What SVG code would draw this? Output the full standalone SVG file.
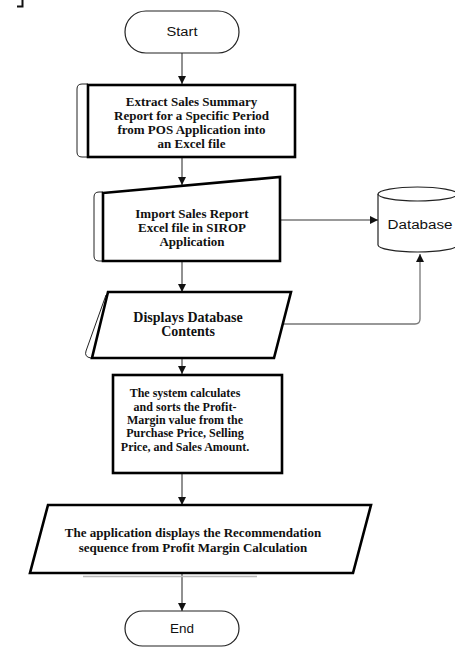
<svg xmlns="http://www.w3.org/2000/svg" width="455" height="648" viewBox="0 0 455 648">
  <defs>
    <marker id="arrow" markerUnits="userSpaceOnUse" markerWidth="8" markerHeight="8" viewBox="0 0 8 8" refX="8" refY="4" orient="auto">
      <path d="M0,0 L8,4 L0,8 z" fill="#111"/>
    </marker>
  </defs>
  <style>
    .term { fill: #fff; stroke: #222; stroke-width: 1.2; }
    .box { fill: #fff; stroke: #000; stroke-width: 2.6; stroke-linejoin: miter; }
    .ghost { fill: none; stroke: #222; stroke-width: 1; }
    .shadow { fill: none; stroke: #b8b8b8; stroke-width: 1.5; }
    .flow { fill: none; stroke: #222; stroke-width: 1; marker-end: url(#arrow); }
    .side { fill: none; stroke: #777; stroke-width: 1.3; marker-end: url(#arrow); }
    .sans { font-family: "Liberation Sans", Arial, sans-serif; font-size: 12px; fill: #111; text-anchor: middle; }
    .serif { font-family: "Liberation Serif", "Times New Roman", serif; font-weight: bold; font-size: 13px; fill: #111; text-anchor: middle; }
  </style>

  <!-- small bracket mark in the top-left corner -->
  <path d="M17,6.5 L22.5,6.5 L22.5,0" fill="none" stroke="#111" stroke-width="2"/>

  <g id="connectors">
    <line class="flow" x1="182" y1="53" x2="182" y2="84"/>
    <line class="flow" x1="182" y1="157" x2="182" y2="185"/>
    <line class="flow" x1="182" y1="261" x2="182" y2="292"/>
    <line class="flow" x1="182" y1="358" x2="182" y2="374"/>
    <line class="flow" x1="182" y1="473" x2="182" y2="505"/>
    <line class="flow" x1="182" y1="573" x2="182" y2="611"/>
    <line class="side" x1="281" y1="220" x2="378" y2="220"/>
    <path class="side" d="M283,324 L415,324 Q420,324 420,319 L420,254"/>
  </g>

  <g id="start">
    <rect class="term" x="125" y="11" width="114" height="42" rx="21" ry="21"/>
    <text class="sans" x="182" y="36" textLength="31" lengthAdjust="spacingAndGlyphs">Start</text>
  </g>

  <g id="extract-report">
    <path class="ghost" d="M88,84 L82,84 Q77,84 77,89 L77,152 Q77,157 82,157 L88,157"/>
    <rect class="box" x="88" y="85" width="207" height="72"/>
    <text class="serif" x="191.5" y="106">Extract Sales Summary</text>
    <text class="serif" x="191.5" y="120">Report for a Specific Period</text>
    <text class="serif" x="191.5" y="134">from POS Application into</text>
    <text class="serif" x="191.5" y="148">an Excel file</text>
  </g>

  <g id="import-report">
    <path class="ghost" d="M103,192 L99,192 Q94,192 94,197 L94,256 Q94,261 99,261 L103,261"/>
    <path class="box" d="M103,193 L280,177 L280,261 L103,261 Z"/>
    <text class="serif" x="192" y="218">Import Sales Report</text>
    <text class="serif" x="192" y="232">Excel file in SIROP</text>
    <text class="serif" x="192" y="246">Application</text>
  </g>

  <g id="database">
    <path class="term" d="M378,194 L378,245 A39.5,7 0 0 0 457,245 L457,194 A39.5,7 0 0 0 378,194 Z"/>
    <path class="term" fill="none" d="M378,194 A39.5,7 0 0 0 457,194"/>
    <text class="sans" x="420" y="229" textLength="65" lengthAdjust="spacingAndGlyphs">Database</text>
  </g>

  <g id="display-contents">
    <path class="ghost" d="M106,295 L86,351 Q84,357 91,358"/>
    <path class="box" d="M108,292 L291,292 L274,358 L92,358 Z"/>
    <text class="serif" x="188" y="322" style="font-size:14px">Displays Database</text>
    <text class="serif" x="188" y="336" style="font-size:14px">Contents</text>
  </g>

  <g id="calculate-margin">
    <rect class="box" x="113" y="375" width="169" height="98"/>
    <text class="serif" x="185" y="397" style="font-size:12px">The system calculates</text>
    <text class="serif" x="185" y="411" style="font-size:12px">and sorts the Profit-</text>
    <text class="serif" x="185" y="424" style="font-size:12px">Margin value from the</text>
    <text class="serif" x="185" y="437" style="font-size:12px">Purchase Price, Selling</text>
    <text class="serif" x="185" y="451" style="font-size:12px">Price, and Sales Amount.</text>
  </g>

  <g id="recommendation">
    <line class="shadow" x1="83" y1="576.5" x2="257" y2="576.5"/>
    <path class="box" d="M48,505 L371,505 L353,573 L30,573 Z"/>
    <text class="serif" x="193" y="537">The application displays the Recommendation</text>
    <text class="serif" x="193" y="552">sequence from Profit Margin Calculation</text>
  </g>

  <g id="end">
    <rect class="term" x="125" y="611" width="114" height="35" rx="17.5" ry="17.5"/>
    <text class="sans" x="182" y="633" textLength="24" lengthAdjust="spacingAndGlyphs">End</text>
  </g>
</svg>
